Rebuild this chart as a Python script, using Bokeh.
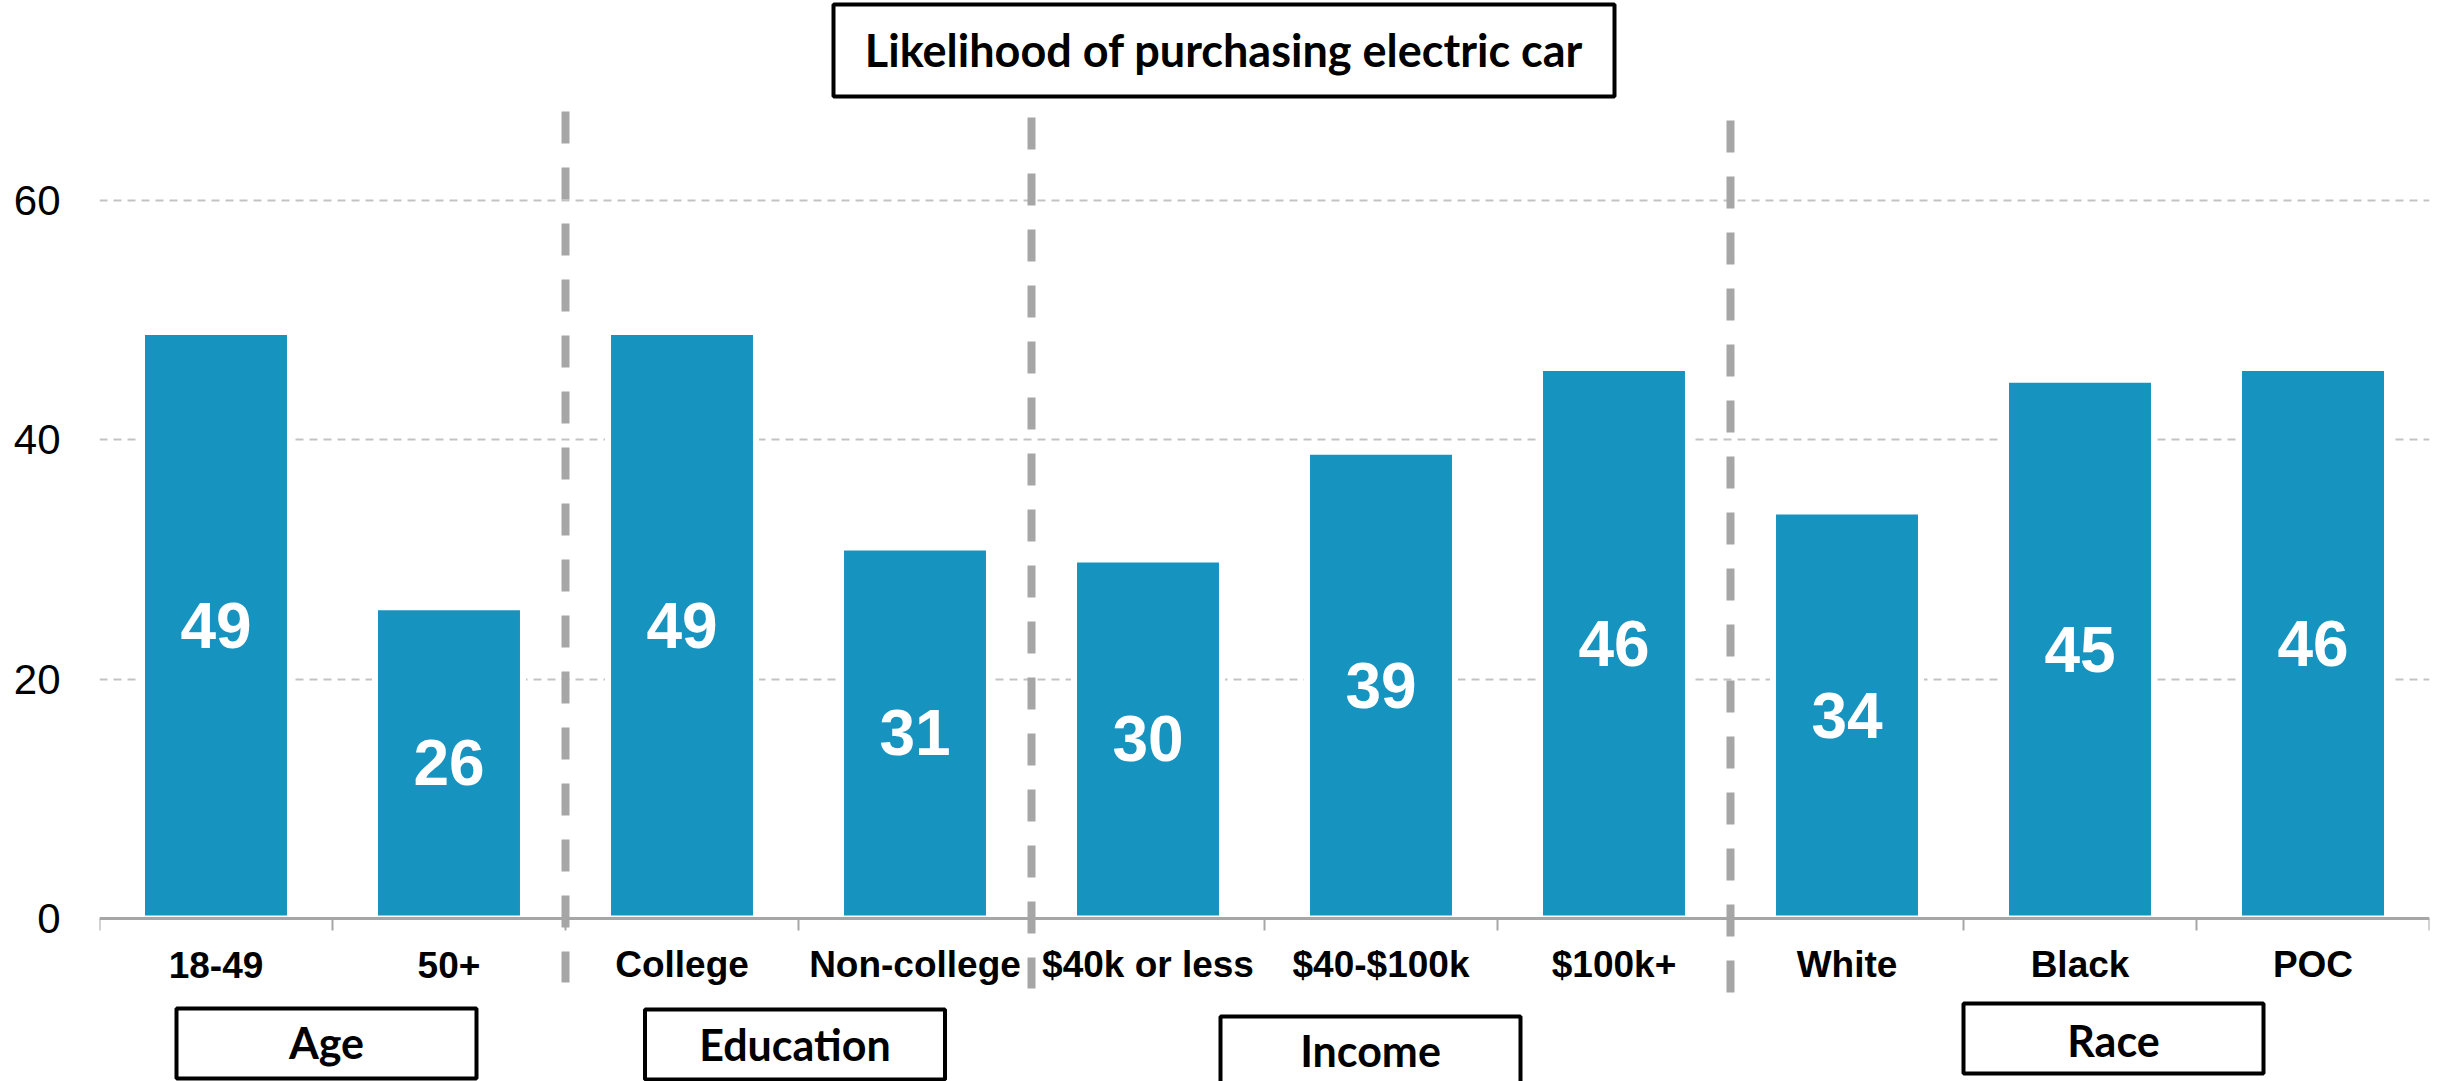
from bokeh.plotting import figure
from bokeh.models import Range1d, FixedTicker, Span
from bokeh.core.properties import value
from bokeh.embed import file_html
from bokeh.resources import INLINE

# ---------------- data ----------------
categories = ["18-49", "50+", "College", "Non-college", "$40k or less",
              "$40-$100k", "$100k+", "White", "Black", "POC"]
values = [49, 26, 49, 31, 30, 39, 46, 34, 45, 46]
groups = ["Age", "Education", "Income", "Race"]
group_sizes = [2, 2, 3, 3]
y_ticks = [0, 20, 40, 60]
title_text = "Likelihood of purchasing electric car"

# ---------------- layout ----------------
W, H = 2441, 1081
FRAME_X0 = 99
FRAME_X1 = 2429
LEFT, RIGHT = FRAME_X0, W - FRAME_X1
OFF = 0
PX_PER_UNIT = 11.97     # pixels per value unit
ZERO_Y = 918            # picture row of value 0
CAT_PX = 233.0


def dy(img_y):
    return (ZERO_Y - img_y) / PX_PER_UNIT


def dx(img_x):
    return (img_x - FRAME_X0) / CAT_PX


n = len(categories)
centers = [i + 0.5 for i in range(n)]

p = figure(width=W, height=H, output_backend="svg", toolbar_location=None,
           x_range=Range1d(0, n), y_range=Range1d(dy(OFF + H), dy(OFF)),
           x_axis_type=None, title=None,
           min_border_left=LEFT, min_border_right=RIGHT,
           min_border_top=0, min_border_bottom=0)
p.outline_line_color = None
p.background_fill_color = "white"
p.border_fill_color = "white"

ticker = FixedTicker(ticks=y_ticks)
p.yaxis.ticker = ticker
p.yaxis.axis_line_color = None
p.yaxis.major_tick_line_color = None
p.yaxis.minor_tick_line_color = None
p.yaxis.major_tick_out = 0
p.yaxis.major_tick_in = 0
p.yaxis.major_label_text_font = "Liberation Sans"
p.yaxis.major_label_text_font_size = "42px"
p.yaxis.major_label_text_color = "black"
p.yaxis.major_label_standoff = 39

p.ygrid.ticker = ticker
p.ygrid.grid_line_color = "#c3c3c3"
p.ygrid.grid_line_width = 2
p.ygrid.grid_line_dash = "8 6"

# group separators
bounds = []
acc = 0
for s in group_sizes[:-1]:
    acc += s
    bounds.append(acc)
sep_top = [dy(111), dy(117), dy(120)]
sep_bot = [dy(982), dy(988), dy(992)]
p.segment(x0=bounds, y0=sep_top, x1=bounds, y1=sep_bot,
          line_color="#a6a6a6", line_width=8, line_dash="32 24")

# bars
p.vbar(x=centers, top=values, bottom=0, width=0.635,
       fill_color="#1793bf", line_color="white", line_width=6)

# baseline + ticks
p.add_layout(Span(location=0, dimension="width", line_color="#a6a6a6", line_width=3))
edges = list(range(n + 1))
p.segment(x0=edges, y0=[0] * len(edges), x1=edges, y1=[dy(930)] * len(edges),
          line_color="#a6a6a6", line_width=2)

# category labels
p.text(x=centers, y=[dy(964)] * n, text=categories,
       text_font=value("Liberation Sans"), text_font_style="bold",
       text_font_size="37px", text_align="center", text_baseline="middle",
       text_color="black")

# value labels
p.text(x=centers, y=[v / 2 for v in values], text=[str(v) for v in values],
       text_font=value("Liberation Sans"), text_font_style="bold",
       text_font_size="64px", text_align="center", text_baseline="middle",
       text_color="white")

# title box
p.rect(x=[dx(1223.5)], y=[dy(50)], width=781, height=92,
       width_units="screen", height_units="screen",
       fill_color="white", line_color="black", line_width=4)
p.text(x=[dx(1223.5)], y=[dy(49)], text=[title_text],
       text_font=value("Lato"), text_font_style="bold", text_font_size="45px",
       text_align="center", text_baseline="middle", text_color="black")

# group boxes
box_x = [dx(326), dx(794.5), dx(1370), dx(2113)]
box_y = [dy(1043), dy(1044), dy(1051), dy(1038)]
box_h = [70, 70, 70, 70]
text_y = [dy(1042), dy(1044), dy(1050), dy(1040)]
p.rect(x=box_x, y=box_y, width=300, height=box_h,
       width_units="screen", height_units="screen",
       fill_color="white", line_color="black", line_width=4)
p.text(x=box_x, y=text_y, text=groups,
       text_font=value("Lato"), text_font_style="bold", text_font_size="43px",
       text_align="center", text_baseline="middle", text_color="black")

open("out.html", "w").write(file_html(p, INLINE))
